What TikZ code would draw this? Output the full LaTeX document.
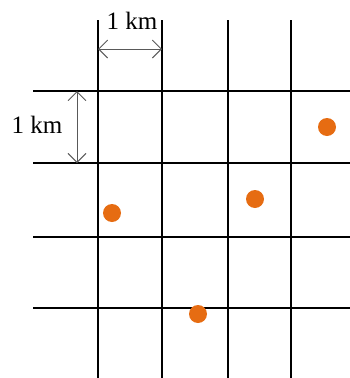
\documentclass[tikz,border=0pt]{standalone}
\usepackage{fontspec}
\setmainfont{Liberation Serif}
\usetikzlibrary{arrows.meta}
\definecolor{dotorange}{RGB}{230,108,18}
\tikzset{
  gridline/.style={line width=2.6pt, black},
  kmarrow/.style={<->, >={Straight Barb[length=9pt,width=18pt]}, gray!70!black, line width=0.9pt},
  kmlabel/.style={font=\fontsize{25}{27}\selectfont, inner sep=0pt},
  site/.style={circle, fill=dotorange, minimum size=18pt, inner sep=0pt}
}
\begin{document}
\begin{tikzpicture}[x=1pt,y=-1pt]
    \useasboundingbox (0,0) rectangle (350,378);

    % Lineas verticales de la cuadricula
    \foreach \x in {98,162,228,291}
        \draw[gridline] (\x,20) -- (\x,378);

    % Lineas horizontales de la cuadricula
    \foreach \y in {91,163,237,308}
        \draw[gridline] (33,\y) -- (350,\y);

    % Escala horizontal
    \coordinate (topa) at (98,49);
    \coordinate (topb) at (162,49);
    \draw[kmarrow] (topa) -- (topb);
    \node[kmlabel] (toplabel) at (132,21) {1 km};

    % Escala vertical
    \coordinate (lefta) at (77,91);
    \coordinate (leftb) at (77,163);
    \draw[kmarrow] (lefta) -- (leftb);
    \node[kmlabel] (leftlabel) at (37,125) {1 km};

    % Puntos
    \node[site] (siteA) at (327,127) {};
    \node[site] (siteB) at (255,199) {};
    \node[site] (siteC) at (112,213) {};
    \node[site] (siteD) at (198,314) {};
\end{tikzpicture}
\end{document}
